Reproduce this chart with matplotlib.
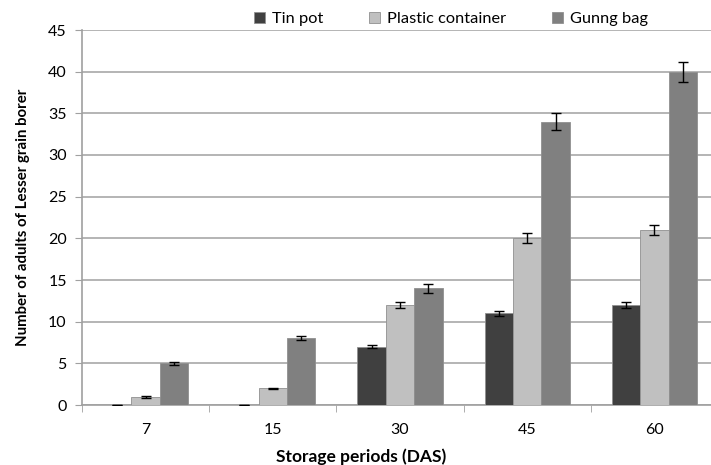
import numpy as np
import matplotlib
matplotlib.use('Agg')
import matplotlib.pyplot as plt

# Data
periods = ['7', '15', '30', '45', '60']
tin_pot = [0, 0, 7, 11, 12]
plastic = [1, 2, 12, 20, 21]
gunny = [5, 8, 14, 34, 40]
tin_err = [0.0, 0.0, 0.2, 0.3, 0.35]
plastic_err = [0.1, 0.1, 0.4, 0.6, 0.6]
gunny_err = [0.15, 0.25, 0.5, 1.0, 1.2]

plt.rcParams['font.family'] = ['Lato', 'DejaVu Sans']

fig = plt.figure(figsize=(7.11, 4.65), dpi=100)
ax = fig.add_axes([82 / 711, 60 / 465, 636 / 711, 375 / 465])

x = np.arange(len(periods))
w = 0.223
series = [
    ('Tin pot', tin_pot, tin_err, '#404040'),
    ('Plastic container', plastic, plastic_err, '#c0c0c0'),
    ('Gunng bag', gunny, gunny_err, '#808080'),
]
for i, (lab, vals, err, col) in enumerate(series):
    ax.bar(x + (i - 1) * w, vals, w, color=col, edgecolor='#909090',
           linewidth=0.6, label=lab, zorder=3)
    ax.errorbar(x + (i - 1) * w, vals, yerr=err, fmt='none', ecolor='black',
                elinewidth=1, capsize=3.5, capthick=1, zorder=4)

ax.set_xlim(-0.5, len(periods) - 0.5)
ax.set_ylim(0, 45)
ax.set_yticks(range(0, 46, 5))
ax.set_xticks(x)
ax.set_xticklabels(periods)
ax.set_xticks(np.arange(-0.5, len(periods)), minor=True)
ax.tick_params(axis='x', which='major', length=0, pad=13, labelsize=11.5)
ax.tick_params(axis='x', which='minor', length=5, color='#a0a0a0')
ax.tick_params(axis='y', length=5, color='#a0a0a0', labelsize=11.5, pad=6)

ax.yaxis.grid(True, color='#a8a8a8', linewidth=1.2, zorder=0)
ax.set_axisbelow(True)
for s in ['top', 'right']:
    ax.spines[s].set_visible(False)
for s in ['left', 'bottom']:
    ax.spines[s].set_color('#a0a0a0')
    ax.spines[s].set_linewidth(1.2)

fig.text(361 / 711, 3 / 465, 'Storage periods (DAS)', fontsize=12.5,
         fontweight='bold', ha='center', va='baseline')
ax.set_ylabel('Number of adults of Lesser grain borer',
              fontsize=10.8, fontweight='bold', labelpad=13)

ax.legend(loc='lower left', bbox_to_anchor=(254 / 711, 439 / 465),
          bbox_transform=fig.transFigure, ncol=3, frameon=False,
          fontsize=11.8, handlelength=0.65, handleheight=0.65,
          columnspacing=2.8, handletextpad=0.45, borderaxespad=0,
          borderpad=0)

fig.savefig('out.png', dpi=100)
